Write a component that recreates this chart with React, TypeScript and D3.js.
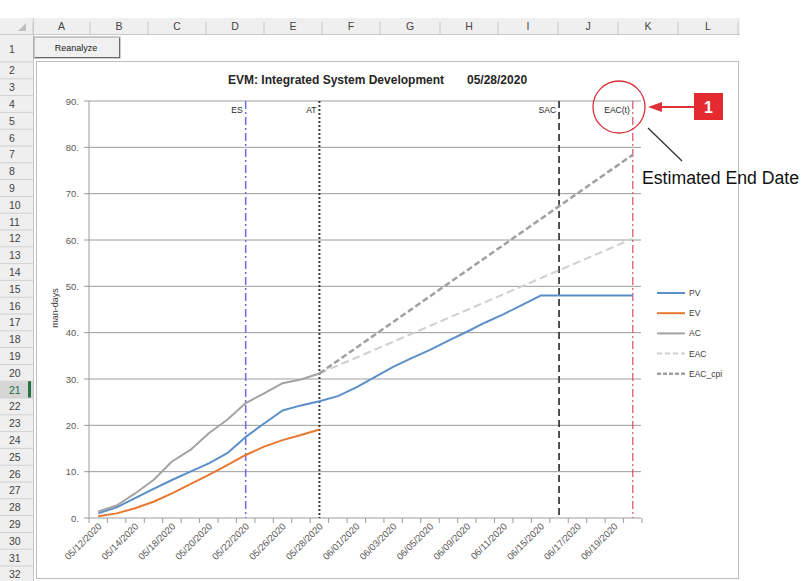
import React from 'react';
import * as d3 from 'd3';

const categories = [
  '05/12/2020', '05/13/2020', '05/14/2020', '05/15/2020', '05/18/2020', '05/19/2020',
  '05/20/2020', '05/21/2020', '05/22/2020', '05/25/2020', '05/26/2020', '05/27/2020',
  '05/28/2020', '05/29/2020', '06/01/2020', '06/02/2020', '06/03/2020', '06/04/2020',
  '06/05/2020', '06/08/2020', '06/09/2020', '06/10/2020', '06/11/2020', '06/12/2020',
  '06/15/2020', '06/16/2020', '06/17/2020', '06/18/2020', '06/19/2020', '06/22/2020',
];
const pvValues = [1.0, 2.3, 4.3, 6.3, 8.2, 10.0, 11.8, 14.0, 17.5, 20.4, 23.2, 24.3, 25.2, 26.3, 28.2,
  30.4, 32.6, 34.5, 36.3, 38.3, 40.2, 42.2, 44.0, 46.0, 48.0, 48.0, 48.0, 48.0, 48.0, 48.0];
const evValues = [0.4, 1.0, 2.1, 3.5, 5.3, 7.3, 9.3, 11.4, 13.6, 15.4, 16.8, 17.9, 19.1];
const acValues = [1.4, 2.7, 5.3, 8.2, 12.2, 14.7, 18.3, 21.2, 24.8, 26.9, 29.1, 29.9, 31.2];
const forecastDates = ['05/28/2020', '06/22/2020'];
const eacValues = [31.2, 60.3];
const eacCpiValues = [31.2, 78.4];
const markerDates = ['05/22/2020', '05/28/2020', '06/16/2020', '06/22/2020'];
const markerLabels = ['ES', 'AT', 'SAC', 'EAC(t)'];
const yTicks = [0, 10, 20, 30, 40, 50, 60, 70, 80, 90];
const legendNames = ['PV', 'EV', 'AC', 'EAC', 'EAC_cpi'];
const columnLetters = ['A', 'B', 'C', 'D', 'E', 'F', 'G', 'H', 'I', 'J', 'K', 'L'];
const columnEdges = [33, 90, 148, 206, 264, 322, 380, 440, 498, 558, 618, 678, 738];
const rowNumbers = d3.range(1, 33);

const FONT = "'Liberation Sans', Arial, sans-serif";

const seriesStyles: Record<string, { stroke: string; width: number; dash?: string }> = {
  PV: { stroke: '#5b8fc9', width: 2 },
  EV: { stroke: '#e8782f', width: 2 },
  AC: { stroke: '#a3a3a3', width: 2 },
  EAC: { stroke: '#cfcfcf', width: 2, dash: '8,4' },
  EAC_cpi: { stroke: '#a0a0a0', width: 2.5, dash: '6,3' },
};
const markerStyles = [
  { stroke: '#6c6cec', width: 1.5, dash: '8,3,2,3' },
  { stroke: '#3c3c3c', width: 2, dash: '2,2' },
  { stroke: '#1a1a1a', width: 1.5, dash: '7,4' },
  { stroke: '#e0506a', width: 1.2, dash: '8,3,2,3' },
];

export default function App() {
  const W = 804, H = 581;
  const x = d3.scaleBand<string>().domain(categories).range([89, 642]).padding(0);
  const bw = x.bandwidth();
  const cx = (c: string) => (x(c) as number) + bw / 2;
  const y = d3.scaleLinear().domain([0, 90]).range([518, 101]);
  const line = d3.line<[number, number]>().x(d => d[0]).y(d => d[1]);

  const mk = (vals: number[], dates: string[]) =>
    line(vals.map((v, i) => [cx(dates[i]), y(v)] as [number, number])) || '';

  const rowTop = (r: number) => (r === 1 ? 35 : 62 + (r - 2) * 16.8);
  const rowH = (r: number) => (r === 1 ? 27 : 16.8);

  const boundaries = categories.map(c => x(c) as number).concat([642]);

  return (
    <div style={{ position: 'absolute', left: 0, top: 0 }}>
      <svg width={W} height={H} style={{ display: 'block', fontFamily: FONT }}>
        <rect x={0} y={0} width={W} height={H} fill="#ffffff" />
        {/* column header */}
        <rect x={0} y={18} width={740} height={17} fill="#efefef" />
        <line x1={0} x2={740} y1={34.5} y2={34.5} stroke="#c8c8c8" />
        <path d="M26,23 L26,31 L18,31 Z" fill="#c0c0c0" />
        {columnLetters.map((l, i) => (
          <g key={l}>
            <line x1={columnEdges[i + 1]} x2={columnEdges[i + 1]} y1={22} y2={34} stroke="#c8c8c8" />
            <text x={(columnEdges[i] + columnEdges[i + 1]) / 2} y={30} fontSize={10.5} textAnchor="middle" fill="#444">{l}</text>
          </g>
        ))}
        <line x1={33} x2={33} y1={22} y2={34} stroke="#c8c8c8" />
        {/* row header */}
        <rect x={0} y={35} width={33} height={H - 35} fill="#efefef" />
        <line x1={33.5} x2={33.5} y1={18} y2={H} stroke="#c8c8c8" />
        {rowNumbers.map(r => (
          <g key={r}>
            {r === 21 && <rect x={0} y={rowTop(r)} width={33} height={rowH(r)} fill="#d6d6d6" />}
            {r === 21 && <rect x={28} y={rowTop(r)} width={3} height={rowH(r)} fill="#217346" />}
            <line x1={0} x2={33} y1={rowTop(r) + rowH(r)} y2={rowTop(r) + rowH(r)} stroke="#d0d0d0" />
            <text x={9} y={rowTop(r) + rowH(r) / 2 + 4} fontSize={10.5} fill={r === 21 ? '#217346' : '#444'}>{r}</text>
          </g>
        ))}
        {/* button */}
        <rect x={34} y={37} width={86} height={21} fill="#f0f0f0" stroke="#9a9a9a" />
        <line x1={35} x2={119} y1={57.5} y2={57.5} stroke="#6a6a6a" />
        <line x1={119.5} x2={119.5} y1={38} y2={58} stroke="#6a6a6a" />
        <text x={76} y={51} fontSize={9} textAnchor="middle" fill="#222">Reanalyze</text>
        {/* chart border */}
        <rect x={36.5} y={61.5} width={702} height={517} fill="#ffffff" stroke="#bdbdbd" />
        {/* title */}
        <text x={228} y={84} fontSize={12} fontWeight="bold" fill="#262626">EVM: Integrated System Development</text>
        <text x={467} y={84} fontSize={12} fontWeight="bold" fill="#262626">05/28/2020</text>
        {/* gridlines */}
        {yTicks.map(t => (
          <g key={t}>
            <line x1={84} x2={641} y1={y(t)} y2={y(t)} stroke="#9c9c9c" strokeWidth={1} />
            <text x={79} y={y(t) + 3.5} fontSize={9.5} textAnchor="end" fill="#595959">{t}.</text>
          </g>
        ))}
        {/* y axis */}
        <line x1={89} x2={89} y1={y(90)} y2={y(0)} stroke="#9c9c9c" />
        <text transform={`translate(58,308) rotate(-90)`} fontSize={9} textAnchor="middle" fill="#404040">man-days</text>
        {/* x axis ticks */}
        {boundaries.map((b, i) => (
          <line key={i} x1={b} x2={b} y1={518} y2={523} stroke="#9c9c9c" />
        ))}
        {categories.map((c, i) => i % 2 === 0 ? (
          <text key={c} transform={`translate(${cx(c) + 4},${527}) rotate(-45)`} fontSize={9.5} textAnchor="end" fill="#595959">{c}</text>
        ) : null)}
        {/* marker lines */}
        {markerDates.map((d, i) => (
          <g key={d + i}>
            <line x1={cx(d)} x2={cx(d)} y1={y(90)} y2={y(0)} stroke={markerStyles[i].stroke}
              strokeWidth={markerStyles[i].width} strokeDasharray={markerStyles[i].dash} />
            <text x={cx(d) - 3} y={113} fontSize={8.5} textAnchor="end" fill="#262626">{markerLabels[i]}</text>
          </g>
        ))}
        {/* series */}
        <path d={mk(eacValues, forecastDates)} fill="none" stroke={seriesStyles.EAC.stroke} strokeWidth={seriesStyles.EAC.width} strokeDasharray={seriesStyles.EAC.dash} />
        <path d={mk(eacCpiValues, forecastDates)} fill="none" stroke={seriesStyles.EAC_cpi.stroke} strokeWidth={seriesStyles.EAC_cpi.width} strokeDasharray={seriesStyles.EAC_cpi.dash} />
        <path d={mk(pvValues, categories)} fill="none" stroke={seriesStyles.PV.stroke} strokeWidth={2} strokeLinejoin="round" />
        <path d={mk(acValues, categories)} fill="none" stroke={seriesStyles.AC.stroke} strokeWidth={2} strokeLinejoin="round" />
        <path d={mk(evValues, categories)} fill="none" stroke={seriesStyles.EV.stroke} strokeWidth={2} strokeLinejoin="round" />
        {/* legend */}
        {legendNames.map((n, i) => {
          const ly = 293 + i * 20.2;
          const s = seriesStyles[n];
          return (
            <g key={n}>
              <line x1={657} x2={685} y1={ly} y2={ly} stroke={s.stroke} strokeWidth={s.width} strokeDasharray={s.dash ? (n === 'EAC' ? '5,3' : '4,2') : undefined} />
              <text x={689} y={ly + 3} fontSize={8.5} fill="#404040">{n}</text>
            </g>
          );
        })}
        {/* annotation */}
        <circle cx={619} cy={107} r={26} fill="none" stroke="#d9303a" strokeWidth={1.3} />
        <line x1={660} x2={694} y1={107} y2={107} stroke="#e03038" strokeWidth={2} />
        <path d="M648,107 L662,102 L662,112 Z" fill="#e03038" />
        <rect x={694} y={93} width={29} height={27} fill="#e52a2f" />
        <text x={708.5} y={113} fontSize={16} fontWeight="bold" textAnchor="middle" fill="#ffffff">1</text>
        <line x1={648} x2={682} y1={128} y2={161} stroke="#333" strokeWidth={1.3} />
        <text x={642} y={184} fontSize={18} fill="#111" fontFamily="'Liberation Sans Narrow', 'Liberation Sans', Arial, sans-serif"
          textLength={157} lengthAdjust="spacingAndGlyphs">Estimated End Date</text>
      </svg>
    </div>
  );
}
